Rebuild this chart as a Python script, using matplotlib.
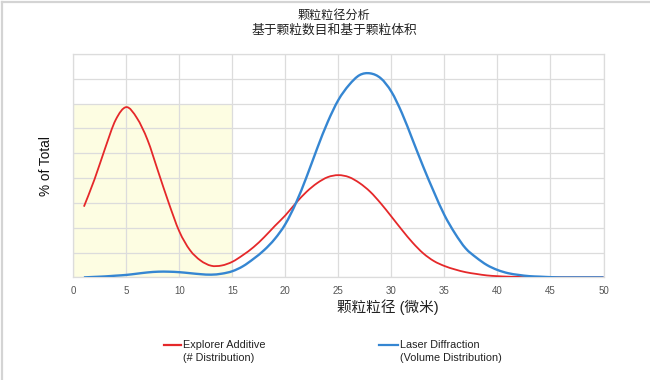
import matplotlib
matplotlib.use("Agg")
import numpy as np
import matplotlib.pyplot as plt
from matplotlib.lines import Line2D
from matplotlib.path import Path
from matplotlib.patches import PathPatch

plt.rcParams['font.family'] = ['Liberation Sans', 'Noto Sans CJK SC', 'DejaVu Sans']

# ---------------- data ----------------
size_um = list(range(1, 51))
explorer_additive = [2.85, 3.95, 5.20, 6.35, 6.86, 6.42, 5.54, 4.27, 3.00, 1.85,
                     1.10, 0.68, 0.47, 0.48, 0.63, 0.90, 1.22, 1.62, 2.07, 2.50,
                     3.00, 3.45, 3.80, 4.04, 4.12, 4.04, 3.80, 3.45, 2.98, 2.45,
                     1.91, 1.40, 0.97, 0.66, 0.46, 0.32, 0.21, 0.14, 0.08, 0.05,
                     0.03, 0.02, 0.01, 0.0, 0.0, 0.0, 0.0, 0.0, 0.0, 0.0]
laser_diffraction = [0.00, 0.02, 0.04, 0.07, 0.10, 0.15, 0.20, 0.23, 0.23, 0.21,
                     0.17, 0.13, 0.11, 0.15, 0.25, 0.45, 0.75, 1.10, 1.55, 2.15,
                     3.00, 4.05, 5.20, 6.27, 7.15, 7.75, 8.15, 8.22, 8.02, 7.48,
                     6.61, 5.54, 4.46, 3.45, 2.51, 1.77, 1.17, 0.80, 0.50, 0.30,
                     0.17, 0.10, 0.05, 0.03, 0.01, 0.0, 0.0, 0.0, 0.0, 0.0]
x_ticks = [0, 5, 10, 15, 20, 25, 30, 35, 40, 45, 50]
highlight_x = (0, 15)
highlight_top = 7

title_lines = ["颗粒粒径分析", "基于颗粒数目和基于颗粒体积"]
x_label = "颗粒粒径 (微米)"
y_label = "% of Total"
legend_red = ["Explorer Additive", "(# Distribution)"]
legend_blue = ["Laser Diffraction", "(Volume Distribution)"]

RED = '#e5282a'
BLUE = '#3586d2'
GRID = '#dcdcdc'


def smooth_path(xs, ys):
    """Catmull-Rom curve through the data points, as cubic Bezier path."""
    p = np.column_stack([xs, ys]).astype(float)
    n = len(p)
    verts = [p[0]]
    codes = [Path.MOVETO]
    for i in range(n - 1):
        p0 = p[i - 1] if i > 0 else p[i]
        p1, p2 = p[i], p[i + 1]
        p3 = p[i + 2] if i + 2 < n else p[i + 1]
        c1 = p1 + (p2 - p0) / 6.0
        c2 = p2 - (p3 - p1) / 6.0
        verts += [c1, c2, p2]
        codes += [Path.CURVE4] * 3
    return Path(verts, codes)


W, H = 650, 380
fig = plt.figure(figsize=(W / 100, H / 100), dpi=100)
fig.patch.set_facecolor('white')

# outer frame (top and left edges)
fig.add_artist(Line2D([2 / W, 2 / W], [0, 1 - 1.5 / H], transform=fig.transFigure,
                      color='#d4d4d4', lw=1.6))
fig.add_artist(Line2D([2 / W, 1], [1 - 1.5 / H, 1 - 1.5 / H], transform=fig.transFigure,
                      color='#d4d4d4', lw=1.6))

L, R, B, T = 73.3, 603.5, 277.4, 54.0
ax = fig.add_axes([L / W, 1 - B / H, (R - L) / W, (B - T) / H])
ax.set_xlim(0, 50)
ax.set_ylim(0, 9)

ax.fill_between(list(highlight_x), 0, highlight_top, color='#fdfde2', zorder=0.2, lw=0)

ax.set_xticks(x_ticks)
ax.set_yticks(range(0, 10))
ax.set_yticklabels([])
ax.grid(True, color=GRID, lw=0.9, zorder=0.5)
ax.set_axisbelow(True)
ax.tick_params(axis='both', length=0)
ax.tick_params(axis='x', labelsize=7, labelcolor='#555555', pad=6)
for s in ax.spines.values():
    s.set_color(GRID)
    s.set_linewidth(0.9)

ax.add_patch(PathPatch(smooth_path(size_um, explorer_additive), fill=False,
                       edgecolor=RED, lw=1.3, zorder=3, transform=ax.transData))
ax.add_patch(PathPatch(smooth_path(size_um, laser_diffraction), fill=False,
                       edgecolor=BLUE, lw=1.7, zorder=4, transform=ax.transData))

# titles and labels
fig.text(334 / W, 1 - 15.5 / H, title_lines[0], ha='center', va='center', fontsize=8.7, color='#222222')
fig.text(334 / W, 1 - 30.5 / H, title_lines[1], ha='center', va='center', fontsize=9.2, color='#222222')
fig.text(388 / W, 1 - 307 / H, x_label, ha='center', va='center', fontsize=10.5, color='#222222')
fig.text(46 / W, 1 - 166 / H, y_label, ha='center', va='center', rotation=90, fontsize=9.8, color='#111111')


# legend
def legend_entry(x0, x1, tx, color, lines):
    fig.add_artist(Line2D([x0 / W, x1 / W], [1 - 345 / H, 1 - 345 / H], transform=fig.transFigure,
                          color=color, lw=1.6))
    fig.text(tx / W, 1 - 345 / H, lines[0], ha='left', va='center', fontsize=7.8, color='#222222')
    fig.text(tx / W, 1 - 358 / H, lines[1], ha='left', va='center', fontsize=7.8, color='#222222')


legend_entry(164, 181, 183, RED, legend_red)
legend_entry(379, 398, 400, BLUE, legend_blue)

fig.savefig('out.png', dpi=100, facecolor='white')
